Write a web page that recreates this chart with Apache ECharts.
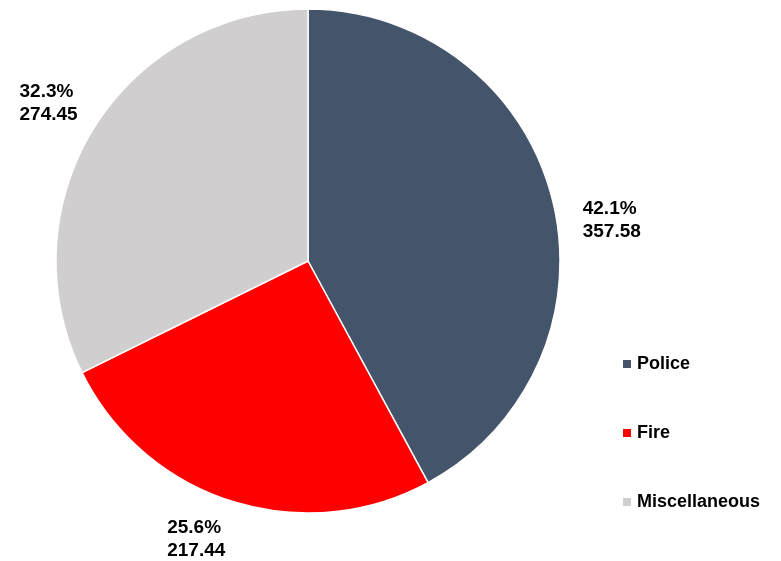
<!DOCTYPE html>
<html><head><meta charset="utf-8">
<script src="https://cdn.jsdelivr.net/npm/echarts@6/dist/echarts.min.js"></script>
<style>html,body{margin:0;padding:0;background:#fff}#c{width:781px;height:561px}</style>
</head><body><div id="c"></div>
<script>
const categories = ['Police', 'Fire', 'Miscellaneous'];
const values = [357.58, 217.44, 274.45];
const percents = ['42.1%', '25.6%', '32.3%'];
const colors = ['#44546A', '#FF0000', '#D0CECE'];

// label nudges (style only): [dx, dy]
const labelNudge = [[0, 26], [12, 21], [12, -15]];

const chart = echarts.init(document.getElementById('c'));
const font = '"Liberation Sans", Arial, sans-serif';
chart.setOption({
  animation: false,
  textStyle: { fontFamily: font },
  legend: {
    orient: 'vertical', left: 616, top: 350,
    itemWidth: 10, itemHeight: 10, itemGap: 51,
    icon: 'rect',
    textStyle: { fontFamily: font, fontSize: 18, fontWeight: 'bold', color: '#000' },
    data: categories
  },
  series: [{
    type: 'pie', center: [308, 261], radius: 252, startAngle: 90, clockwise: true,
    itemStyle: { borderColor: '#fff', borderWidth: 1.5 },
    label: {
      show: true, position: 'outside', overflow: 'none',
      formatter: p => percents[p.dataIndex] + '\n' + p.value.toFixed(2),
      fontFamily: font, fontSize: 19, fontWeight: 'bold', color: '#000', lineHeight: 23
    },
    labelLine: { show: false, length: 18, length2: 8 },
    labelLayout: p => {
      const n = labelNudge[p.dataIndex];
      return { x: p.labelRect.x + n[0], dy: n[1], align: 'left' };
    },
    data: categories.map((c, i) => ({ name: c, value: values[i], itemStyle: { color: colors[i] } }))
  }]
});
</script></body></html>
